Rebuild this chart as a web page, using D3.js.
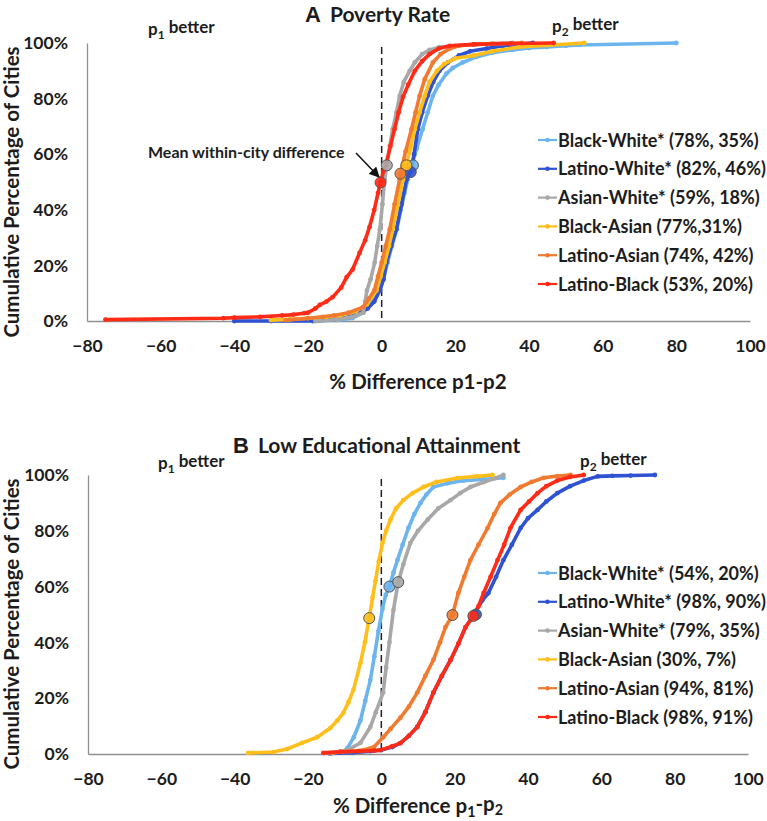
<!DOCTYPE html>
<html><head><meta charset="utf-8">
<script src="https://cdn.jsdelivr.net/npm/d3@7"></script>
<style>
body{margin:0;background:#fff;}
text{font-family:Lato,"Open Sans",sans-serif;font-weight:700;fill:#1c1c1c;}
</style></head>
<body>
<svg id="chart" width="767" height="821"></svg>
<script>
// ---------- DATA ----------
const seriesNames = ["Black-White*","Latino-White*","Asian-White*","Black-Asian","Latino-Asian","Latino-Black"];
const seriesColors = ["#6cb4ee","#2f52d2","#a8a8a8","#ffbe1a","#f07a30","#ff2b17"];
const xTicks = [-80,-60,-40,-20,0,20,40,60,80,100];
const yTicks = [0,20,40,60,80,100];

const legendA = ["(78%, 35%)","(82%, 46%)","(59%, 18%)","(77%,31%)","(74%, 42%)","(53%, 20%)"];
const legendB = ["(54%, 20%)","(98%, 90%)","(79%, 35%)","(30%, 7%)","(94%, 81%)","(98%, 91%)"];

// Panel A: Poverty Rate  [difference, cumulative %]
const povBlackWhite = [[-18,0],[-12,0.3],[-8,1],[-5,3],[-3,6],[-1.5,9],[-0.5,11],[0.5,15],[1.6,21],[2.8,27],[4.1,33],[5.2,40],[6.2,46],[7.1,51],[8.2,56],[9.5,62],[11.1,69],[12.5,75],[13.9,81],[15.5,85],[17.6,89],[19.3,91],[22,93],[25.7,95],[30,96.5],[35.5,97.5],[40,98.2],[44.8,98.6],[50,99],[53.7,99.3],[80,100]];
const povLatinoWhite = [[-40,0],[-30,0],[-18.7,0],[-13,0.5],[-8.7,1.5],[-6,3],[-3.8,4.5],[-2,7],[-0.5,11],[0.5,15],[1.3,21],[2.6,27],[4,33],[5.4,42],[6.8,51],[7.9,54],[8.8,60],[9.8,69],[11,75],[12.5,81],[14,86],[15.7,90],[18,93],[21,95.5],[24,97],[28.5,98],[33,99],[37,99.5],[41,100]];
const povAsianWhite = [[-18,0],[-12,0.5],[-8,1.5],[-5,3],[-4.5,7],[-4,11],[-3,15],[-1.9,21],[-1.2,27],[-0.5,33],[0.2,42],[0.8,51],[1.4,56],[2.2,63],[3,69],[4,75],[4.9,81],[6,86],[7.6,90],[9,93],[11,96],[13,97.5],[15.7,98.5],[20,99],[26,99.5],[35.5,100]];
const povBlackAsian = [[-30,0.3],[-25,0.6],[-20,1],[-15,1.5],[-11.4,2],[-7,3.5],[-4,6],[-1.4,11],[-0.3,16],[0.8,21],[2,27],[3,33],[4.4,42],[5.8,51],[6.7,56],[7.8,62],[9,69],[10.3,75],[11.7,81],[13,86],[15,90],[17,92.5],[20,94.5],[25,95.5],[30,97],[37.5,98.6],[45,99.2],[55,100]];
const povLatinoAsian = [[-26,0.3],[-20,1],[-16,1.5],[-13,2],[-9,3],[-5,5],[-3.5,8],[-2,11],[-1,16],[0,21],[1.1,27],[2.2,33],[3.5,42],[4.9,51],[5.1,53],[6.5,61],[8.1,69],[9.2,75],[10.3,81],[11.7,87],[13.9,93],[16,96],[18.5,98],[21,99],[25,99.5],[30,99.8],[38,100]];
const povLatinoBlack = [[-75,0.5],[-43,1],[-40,1.2],[-33,1.5],[-27,2],[-24,2.3],[-21,2.8],[-20,3],[-18,4.5],[-16.8,5.8],[-15,7],[-13.3,8.6],[-11,12],[-9.5,15.8],[-7.9,18.5],[-6,24.5],[-4.5,29],[-3.3,33.8],[-2,40],[-1,46],[-0.3,50],[0.5,54],[1.3,57],[2.4,63],[3.5,69],[4.6,75],[5.8,80.6],[7.2,85],[9,90],[11,93.5],[13,96],[15.5,98],[18.5,99],[25,99.5],[35,99.8],[46.7,100]];
const povMeans = [[8.5,56],[7.9,53.6],[1.4,56],[6.7,56],[5.1,53],[-0.3,49.8]];

// Panel B: Low Educational Attainment
const eduBlackWhite = [[-10.5,0.5],[-9.3,2],[-7.5,6],[-5.7,12],[-4.4,19],[-3,26.5],[-1.9,35],[-0.8,44],[0.3,52],[1.2,57],[2.2,60],[3.3,65],[4.4,69.5],[5.8,75],[7.4,81],[9,86],[10.7,90],[12.3,93],[14.2,95.7],[18,97],[22.4,98],[28,98.5],[33.3,99]];
const eduLatinoWhite = [[-14,0.2],[-8,0.5],[-3,1],[0,1.4],[3,2.5],[5.2,3.9],[7.5,6.5],[9.8,9.7],[12,15],[14.2,22],[16.5,28],[18.9,33.7],[21,39.5],[23,45.5],[25.3,50],[27.5,55],[29.2,57.7],[31.3,63.5],[33.3,69.5],[35.6,75],[38,81],[40,84.5],[42.6,87.5],[45,90.5],[48,93.5],[51.5,96],[55.2,98],[59,99.5],[63,99.7],[68,99.8],[74.6,100]];
const eduAsianWhite = [[-13.6,0.3],[-9,1.5],[-5.7,4],[-3,9.7],[-1.5,15],[0.5,22],[1.3,31],[2.2,40],[3.3,51.6],[4.6,61.6],[6,68],[7.9,75.6],[10,80],[12.6,84],[15.5,88],[18.9,91],[21.5,93.5],[24.3,95.7],[28,97.5],[31,98.8],[33.3,100]];
const eduBlackAsian = [[-36.3,0.4],[-29.5,0.7],[-25.7,1.8],[-21.6,4],[-17.5,6],[-13.9,9.3],[-12,12],[-10.4,14.7],[-9,18.5],[-7.6,23],[-5.7,32.6],[-4.5,40],[-3.3,48.7],[-2.4,56],[-1.6,62],[-0.7,69],[0.3,75.6],[1.3,80],[2.5,84],[4,88],[6,91],[8.5,93.5],[11.5,95.7],[15,97.5],[20.8,98.9],[26,99.5],[30.3,100]];
const eduLatinoAsian = [[-14,0.4],[-8,1],[-4.9,1.4],[-2,2.5],[0.5,6],[2.5,9],[5.2,13],[7.5,17],[9.8,22],[12,28],[14.2,33.7],[16,40],[17.5,45.5],[19.4,49.8],[21,57.7],[22.6,63.5],[24.3,69.5],[26.5,75],[29,81],[30.8,86],[32.5,90],[35,93],[38,95.7],[41,97.5],[44.3,99],[48,99.6],[51.6,100]];
const eduLatinoBlack = [[-15.8,0.4],[-11.2,0.8],[-6,1],[-2,1.2],[-0.3,1.4],[3,2.8],[5.2,3.9],[7.5,6.5],[9.8,9.7],[12,15],[14.2,22],[16.5,28],[18.9,33.7],[21,39.5],[23,45.5],[25.1,49.5],[26.5,53],[27.9,57.7],[29.8,63.5],[31.7,69.5],[33.5,75],[35.2,81],[38,87.5],[40.3,90.5],[42.6,93.5],[45,96],[48,98],[51.5,99.3],[55.2,100]];
const eduMeans = [[2.2,60],[25.8,50],[4.6,61.6],[-3.3,48.7],[19.4,49.8],[25.1,49.5]];

// ---------- DRAW ----------
const svg = d3.select("#chart");

function sub(sel, base, s){ // text with subscript
  sel.append("tspan").text(base);
  sel.append("tspan").attr("font-size","0.7em").attr("dy","0.3em").text(s);
}

function drawPanel(cfg){
  const x = d3.scaleLinear().domain([-80,100]).range([cfg.left,cfg.right]);
  const y = d3.scaleLinear().domain([0,100]).range([cfg.bottom,cfg.top]);
  const g = svg.append("g");

  // title
  const t = g.append("text").attr("x",cfg.titleX).attr("y",cfg.titleY).attr("font-size",21);
  t.append("tspan").attr("font-size",22).attr("font-family","Arial, Liberation Sans").text(cfg.letter);
  t.append("tspan").attr("dx",9).text(cfg.title);

  // axes
  const xa = g.append("g").attr("transform",`translate(0,${cfg.bottom})`)
    .call(d3.axisBottom(x).tickValues(xTicks).tickSize(0).tickPadding(19).tickFormat(d3.format("d")));
  const ya = g.append("g").attr("transform",`translate(${cfg.left},0)`)
    .call(d3.axisLeft(y).tickValues(yTicks).tickSize(0).tickPadding(19).tickFormat(d=>d+"%"));
  [xa,ya].forEach(a=>{
    a.select(".domain").attr("stroke","#8f8f8f").attr("stroke-width",1.3);
    a.selectAll("text").attr("font-size",17.5).attr("font-family","Lato, sans-serif").attr("font-weight",700).attr("fill","#1c1c1c");
  });

  // axis titles
  const xt = g.append("text").attr("x",418).attr("y",cfg.xTitleY).attr("text-anchor","middle").attr("font-size",20.5);
  if(cfg.subTitle){
    xt.append("tspan").text("% Difference p");
    xt.append("tspan").attr("font-size","0.7em").attr("dy","0.3em").text("1");
    xt.append("tspan").attr("dy","-0.3em").text("-p");
    xt.append("tspan").attr("font-size","0.7em").attr("dy","0.3em").text("2");
  } else xt.text("% Difference p1-p2");
  g.append("text").attr("transform",`translate(19,${cfg.yTitleY}) rotate(-90)`)
    .attr("text-anchor","middle").attr("font-size",20.5).text("Cumulative Percentage of Cities");

  // dashed zero line
  g.append("line").attr("x1",x(0)).attr("x2",x(0)).attr("y1",cfg.dashTop).attr("y2",cfg.bottom)
    .attr("stroke","#222").attr("stroke-width",1.5).attr("stroke-dasharray","7,4");

  // p1/p2 better
  const p1 = g.append("text").attr("x",cfg.p1[0]).attr("y",cfg.p1[1]).attr("font-size",17);
  sub(p1,"p","1"); p1.append("tspan").attr("dy","-0.3em").text(" better");
  const p2 = g.append("text").attr("x",cfg.p2[0]).attr("y",cfg.p2[1]).attr("font-size",17);
  sub(p2,"p","2"); p2.append("tspan").attr("dy","-0.3em").text(" better");

  // series
  const line = d3.line().x(d=>x(d[0])).y(d=>y(d[1]));
  cfg.series.forEach((s,i)=>{
    const sg = g.append("g");
    sg.append("path").datum(s).attr("d",line).attr("fill","none")
      .attr("stroke",seriesColors[i]).attr("stroke-width",3.6).attr("stroke-linejoin","round");
    sg.selectAll("circle").data(s).join("circle").attr("cx",d=>x(d[0])).attr("cy",d=>y(d[1]))
      .attr("r",2.4).attr("fill",seriesColors[i]);
  });
  // means
  cfg.means.forEach((m,i)=>{
    g.append("circle").attr("cx",x(m[0])).attr("cy",y(m[1])).attr("r",5.5)
      .attr("fill",seriesColors[i]).attr("stroke","#555").attr("stroke-width",1).attr("fill-opacity",0.9);
  });

  // legend
  cfg.legend.forEach((lab,i)=>{
    const ly = cfg.legendY + i*28.8;
    g.append("line").attr("x1",538).attr("x2",557).attr("y1",ly).attr("y2",ly)
      .attr("stroke",seriesColors[i]).attr("stroke-width",2.2);
    g.append("circle").attr("cx",547.5).attr("cy",ly).attr("r",2.3).attr("fill",seriesColors[i]);
    g.append("text").attr("x",558).attr("y",ly+6.5).attr("font-size",18)
      .text(seriesNames[i]+" "+lab);
  });
  return {x,y,g};
}

const A = drawPanel({left:87,right:750,top:43,bottom:321,titleX:305,titleY:22,letter:"A",title:"Poverty Rate",
  xTitleY:389,yTitleY:192,dashTop:47,p1:[148,35],p2:[552,32],subTitle:false,
  series:[povBlackWhite,povLatinoWhite,povAsianWhite,povBlackAsian,povLatinoAsian,povLatinoBlack],
  means:povMeans,legend:legendA,legendY:140});

// annotation
A.g.append("text").attr("x",148).attr("y",158).attr("font-size",16).text("Mean within-city difference");
svg.append("defs").append("marker").attr("id","arr").attr("viewBox","0 0 10 10").attr("refX",9).attr("refY",5)
  .attr("markerWidth",7).attr("markerHeight",7).attr("orient","auto")
  .append("path").attr("d","M0,0L10,5L0,10z").attr("fill","#111");
A.g.append("line").attr("x1",356).attr("y1",153).attr("x2",379).attr("y2",177)
  .attr("stroke","#111").attr("stroke-width",1.5).attr("marker-end","url(#arr)");

drawPanel({left:88,right:748,top:475,bottom:754,titleX:233,titleY:453,letter:"B",title:"Low Educational Attainment",
  xTitleY:813,yTitleY:624,dashTop:479,p1:[158,469],p2:[580,467],subTitle:true,
  series:[eduBlackWhite,eduLatinoWhite,eduAsianWhite,eduBlackAsian,eduLatinoAsian,eduLatinoBlack],
  means:eduMeans,legend:legendB,legendY:573});
</script>
</body></html>
